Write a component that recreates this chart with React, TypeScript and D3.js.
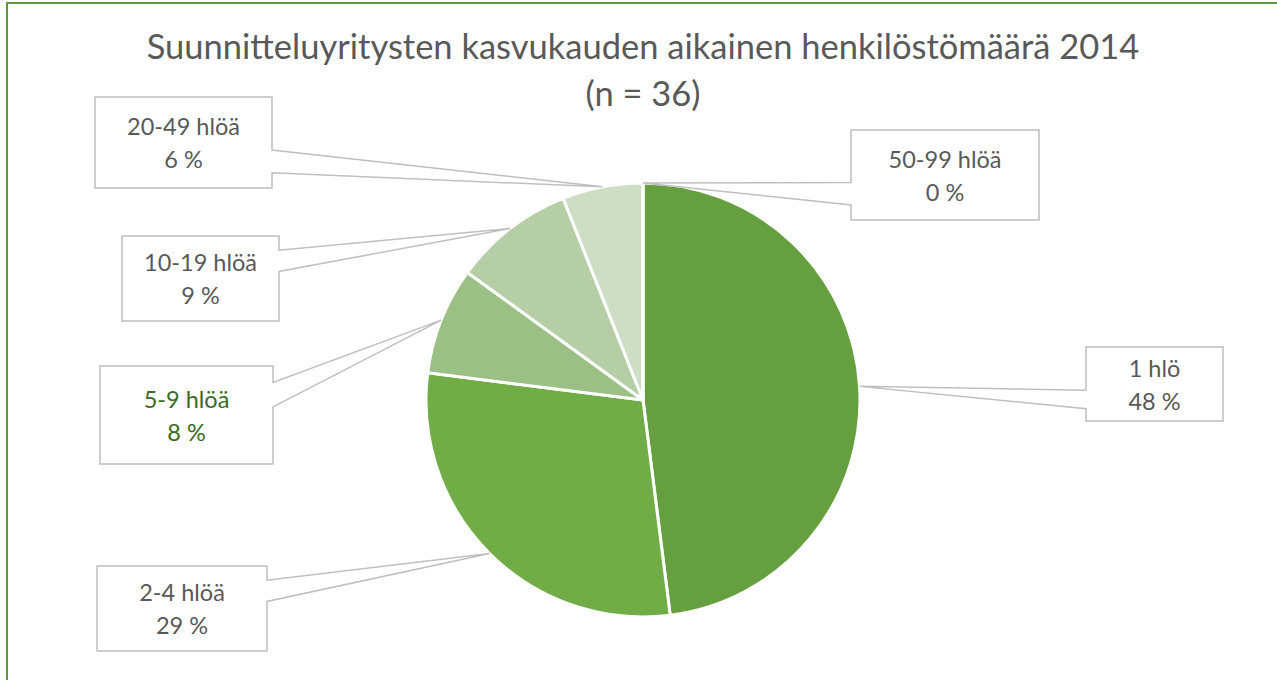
import React from "react";
import * as d3 from "d3";

const categories = ["1 hlö", "2-4 hlöä", "5-9 hlöä", "10-19 hlöä", "20-49 hlöä", "50-99 hlöä"];
const values = [48, 29, 8, 9, 6, 0];
const titleLines = ["Suunnitteluyritysten kasvukauden aikainen henkilöstömäärä 2014", "(n = 36)"];

const sliceColors = ["#669f40", "#70ad47", "#9bc085", "#b5cea5", "#cddec4", "#e2ecdc"];
const labelColors = ["#595959", "#595959", "#3a6a24", "#595959", "#595959", "#595959"];
// callout box layout (x, y, w, h)
const boxes = [
  { x: 1086, y: 347, w: 137, h: 74 },
  { x: 97, y: 566, w: 170, h: 85 },
  { x: 100, y: 366, w: 173, h: 98 },
  { x: 122, y: 236, w: 157, h: 85 },
  { x: 95, y: 97, w: 177, h: 91 },
  { x: 851, y: 130, w: 188, h: 90 },
];

const W = 1277;
const H = 680;
const cx = 643;
const cy = 400;
const R = 217;
const FONT = "Lato, 'Open Sans', sans-serif";

function calloutPath(b: { x: number; y: number; w: number; h: number }, tip: [number, number]) {
  const { x, y, w, h } = b;
  const below = tip[1] > y + h / 2;
  const b0 = y + h * (below ? 7 / 12 : 2 / 12);
  const b1 = y + h * (below ? 10 / 12 : 5 / 12);
  const p = d3.path();
  if (tip[0] > x + w) {
    p.moveTo(x, y);
    p.lineTo(x + w, y);
    p.lineTo(x + w, b0);
    p.lineTo(tip[0], tip[1]);
    p.lineTo(x + w, b1);
    p.lineTo(x + w, y + h);
    p.lineTo(x, y + h);
    p.closePath();
  } else {
    p.moveTo(x, y);
    p.lineTo(x + w, y);
    p.lineTo(x + w, y + h);
    p.lineTo(x, y + h);
    p.lineTo(x, b1);
    p.lineTo(tip[0], tip[1]);
    p.lineTo(x, b0);
    p.closePath();
  }
  return p.toString();
}

export default function App() {
  const pie = d3
    .pie<number>()
    .sort(null)
    .value((d) => d)
    .startAngle(0)
    .endAngle(2 * Math.PI);
  const arcs = pie(values);
  const arc = d3.arc<d3.PieArcDatum<number>>().innerRadius(0).outerRadius(R);
  const edge = d3.arc<d3.PieArcDatum<number>>().innerRadius(R).outerRadius(R);

  return (
    <svg
      width={W}
      height={H}
      style={{ position: "absolute", left: 0, top: 0, background: "#fff" }}
      fontFamily={FONT}
    >
      <rect x={0} y={0} width={W} height={H} fill="#fff" />
      <rect x={7} y={3} width={W + 20} height={H + 20} fill="none" stroke="#5f993b" strokeWidth={2} />
      <g>
        {titleLines.map((t, i) => (
          <text
            key={i}
            x={cx}
            y={59 + i * 47}
            textAnchor="middle"
            fontSize={34.5}
            fill="#595959"
          >
            {t}
          </text>
        ))}
      </g>
      <g transform={`translate(${cx},${cy})`}>
        {arcs.map((a, i) => (
          <path key={i} d={arc(a) || ""} fill={sliceColors[i]} stroke="#fff" strokeWidth={3} strokeLinejoin="round" />
        ))}
      </g>
      <g>
        {arcs.map((a, i) => {
          const c = edge.centroid(a);
          const tip: [number, number] = [c[0] + cx, c[1] + cy];
          const b = boxes[i];
          const mx = b.x + b.w / 2;
          const my = b.y + b.h / 2;
          return (
            <g key={i}>
              <path d={calloutPath(b, tip)} fill="#fff" stroke="#bfbfbf" strokeWidth={1.5} />
              <text x={mx} y={my - 7.5} textAnchor="middle" fontSize={23.5} fill={labelColors[i]}>
                {categories[i]}
              </text>
              <text x={mx} y={my + 25.5} textAnchor="middle" fontSize={23.5} fill={labelColors[i]}>
                {`${values[i]} %`}
              </text>
            </g>
          );
        })}
      </g>
    </svg>
  );
}
